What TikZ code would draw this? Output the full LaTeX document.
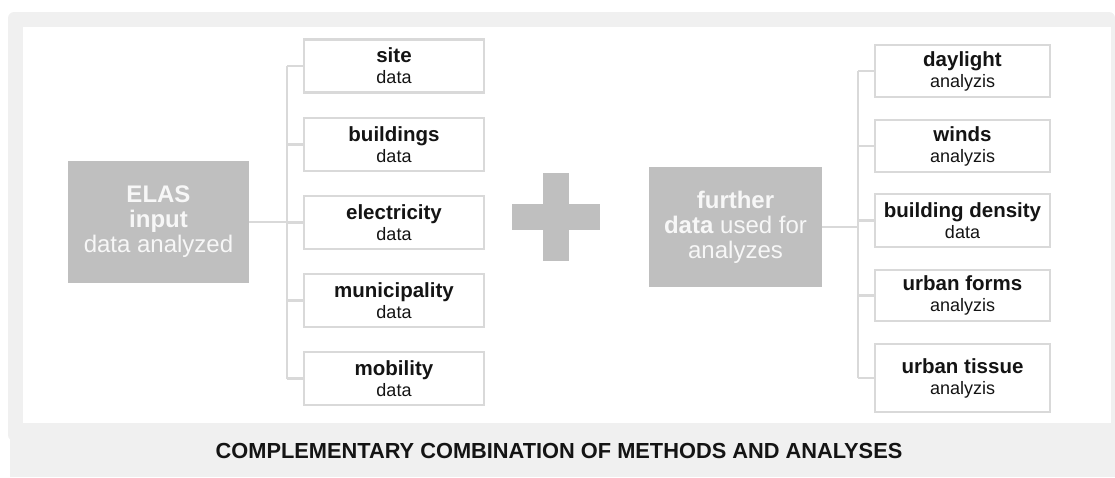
\documentclass[tikz,border=0pt]{standalone}
\usepackage{fontspec}
\setmainfont{Liberation Sans}
\definecolor{bgray}{HTML}{F0F0F0}
\definecolor{boxfill}{HTML}{BFBFBF}
\definecolor{lgray}{HTML}{D9D9D9}
\definecolor{txt}{HTML}{141414}
\definecolor{wtxt}{HTML}{F7F7F7}
\newcommand{\bline}[1]{{\bfseries\fontsize{20.5}{21}\selectfont #1}}
\tikzset{
  conn/.style={draw=lgray, line width=2.4pt},
  smallbox/.style={draw=lgray, line width=2.4pt, fill=white, rectangle, align=center,
    text=txt, inner sep=0pt, font=\fontsize{18}{21}\selectfont},
  bigbox/.style={fill=boxfill, rectangle, align=center, text=wtxt, inner sep=0pt,
    font=\fontsize{24}{25}\selectfont},
  plusbar/.style={fill=boxfill}
}
\begin{document}
\begin{tikzpicture}[x=1pt,y=-1pt]
\useasboundingbox (0,0) rectangle (1115,477);
% frame
\fill[bgray, rounded corners=6pt] (8,12) rectangle (1115,441);
\fill[bgray] (9.5,430) rectangle (1115,477);
\fill[white] (23,27) rectangle (1111,423);
% left boxes
\node[smallbox, minimum width=180pt, minimum height=53pt] (site) at (394,66) {\bline{site}\\data};
\node[smallbox, minimum width=180pt, minimum height=53pt] (bldg) at (394,144.5) {\bline{buildings}\\data};
\node[smallbox, minimum width=180pt, minimum height=53pt] (elec) at (394,222.5) {\bline{electricity}\\data};
\node[smallbox, minimum width=180pt, minimum height=53pt] (muni) at (394,300.5) {\bline{municipality}\\data};
\node[smallbox, minimum width=180pt, minimum height=53pt] (mob) at (394,378.5) {\bline{mobility}\\data};
% right boxes
\node[smallbox, minimum width=175pt, minimum height=52pt] (day) at (962.5,71) {\bline{daylight}\\analyzis};
\node[smallbox, minimum width=175pt, minimum height=52pt] (wind) at (962.5,146) {\bline{winds}\\analyzis};
\node[smallbox, minimum width=175pt, minimum height=53pt] (dens) at (962.5,220.5) {\bline{building density}\\data};
\node[smallbox, minimum width=175pt, minimum height=51pt] (form) at (962.5,295.5) {\bline{urban forms}\\analyzis};
\node[smallbox, minimum width=175pt, minimum height=68pt] (tiss) at (962.5,378) {\bline{urban tissue}\\analyzis};
% big boxes
\node[bigbox, minimum width=181pt, minimum height=122pt] (elas) at (158.5,222) {\textbf{ELAS}\\\textbf{input}\\data analyzed};
\node[bigbox, minimum width=173pt, minimum height=120pt] (further) at (735.5,227) {\textbf{further}\\\textbf{data} used for\\analyzes};
% plus sign
\fill[boxfill] (512,204) rectangle (600,230);
\fill[boxfill] (543,173) rectangle (569,261);
% trunks
\coordinate (tl) at (287,0);
\coordinate (tr) at (858,0);
\draw[conn] (elas.east) -- (elas.east -| tl);
\draw[conn] (site.west -| tl) -- (mob.west -| tl);
\foreach \n in {site,bldg,elec,muni,mob} \draw[conn] (\n.west) -- (\n.west -| tl);
\draw[conn] (further.east) -- (further.east -| tr);
\draw[conn] (day.west -| tr) -- (tiss.west -| tr);
\foreach \n in {day,wind,dens,form,tiss} \draw[conn] (\n.west) -- (\n.west -| tr);
% caption
\node[anchor=base, text=txt, font=\bfseries\fontsize{21.8}{24}\selectfont, inner sep=0pt] (cap) at (559,458) {COMPLEMENTARY COMBINATION OF METHODS AND ANALYSES};
\end{tikzpicture}
\end{document}
